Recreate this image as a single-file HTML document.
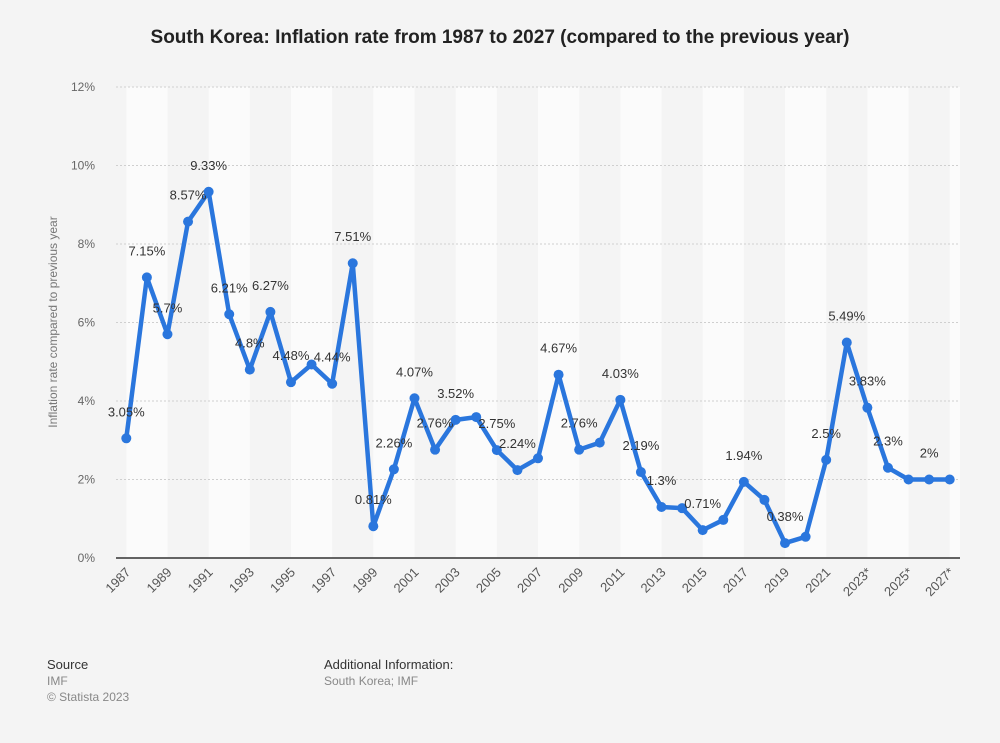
<!DOCTYPE html>
<html><head><meta charset="utf-8"><style>
body{margin:0;background:#f4f4f4;font-family:"Liberation Sans",Arial,sans-serif;}
#wrap{position:relative;width:1000px;height:743px;}
.t{position:absolute;left:0;width:1000px;top:27px;text-align:center;font-weight:bold;font-size:19px;color:#222;}
.f{position:absolute;font-size:12px;color:#888;line-height:16px}
.f b{color:#333;font-weight:normal;font-size:13px}
</style></head><body>
<div id="wrap">
<div class="t">South Korea: Inflation rate from 1987 to 2027 (compared to the previous year)</div>
<svg id="chart" width="1000" height="743" style="position:absolute;left:0;top:0"></svg>
<div class="f" style="left:47px;top:657px"><b>Source</b><br>IMF<br>© Statista 2023</div>
<div class="f" style="left:324px;top:657px"><b>Additional Information:</b><br>South Korea; IMF</div>
</div>
<script>
const years=["1987","1988","1989","1990","1991","1992","1993","1994","1995","1996","1997","1998","1999","2000","2001","2002","2003","2004","2005","2006","2007","2008","2009","2010","2011","2012","2013","2014","2015","2016","2017","2018","2019","2020","2021","2022","2023*","2024*","2025*","2026*","2027*"];
const values=[3.05,7.15,5.7,8.57,9.33,6.21,4.8,6.27,4.48,4.93,4.44,7.51,0.81,2.26,4.07,2.76,3.52,3.59,2.75,2.24,2.54,4.67,2.76,2.94,4.03,2.19,1.3,1.27,0.71,0.97,1.94,1.48,0.38,0.54,2.5,5.49,3.83,2.3,2,2,2];
const labels=["3.05%","7.15%","5.7%","8.57%","9.33%","6.21%","4.8%","6.27%","4.48%","","4.44%","7.51%","0.81%","2.26%","4.07%","2.76%","3.52%","","2.75%","2.24%","","4.67%","2.76%","","4.03%","2.19%","1.3%","","0.71%","","1.94%","","0.38%","","2.5%","5.49%","3.83%","2.3%","","2%",""];
const yTicks=[0,2,4,6,8,10,12];
const svg=document.getElementById('chart');const NS='http://www.w3.org/2000/svg';
const L=116,R=960,T=87,B=558,step=(R-L)/years.length;
const x=i=>L+step*(i+0.5), y=v=>B-(v/12)*(B-T);
function mk(t,a,p){const e=document.createElementNS(NS,t);for(const k in a)e.setAttribute(k,a[k]);(p||svg).appendChild(e);return e;}
years.forEach((yr,i)=>{if(i%4===0){const b=mk('rect',{x:x(i),y:T,width:Math.min(step*2,R-x(i)),height:B-T,fill:'#fbfbfb'});

}});
yTicks.forEach(v=>{if(v===0)return;const g=mk('line',{x1:L,x2:R,y1:y(v),y2:y(v),stroke:'#cfcfcf','stroke-dasharray':'2,2'});

});
yTicks.forEach(v=>{const t=mk('text',{x:95,y:y(v)+4,'text-anchor':'end','font-size':12,fill:'#666'});t.textContent=v+'%';

});
const ax=mk('line',{x1:L,x2:R,y1:B,y2:B,stroke:'#333','stroke-width':1.5});


const yt=mk('text',{transform:'translate(57,322) rotate(-90)','text-anchor':'middle','font-size':12,fill:'#777'});yt.textContent='Inflation rate compared to previous year';


years.forEach((yr,i)=>{if(i%2===0){const t=mk('text',{transform:`translate(${x(i)+5},${B+15}) rotate(-45)`,'text-anchor':'end','font-size':13,fill:'#555'});t.textContent=yr;

}});
const pl=mk('polyline',{points:values.map((v,i)=>x(i)+','+y(v)).join(' '),fill:'none',stroke:'#2a76dd','stroke-width':4.5,'stroke-linejoin':'round'});


values.forEach((v,i)=>{const c=mk('circle',{cx:x(i),cy:y(v),r:5,fill:'#2a76dd'});


if(labels[i]){const t=mk('text',{x:x(i),y:y(v)-22,'text-anchor':'middle','font-size':13,fill:'#333'});t.textContent=labels[i];

}});
</script>
</body></html>
